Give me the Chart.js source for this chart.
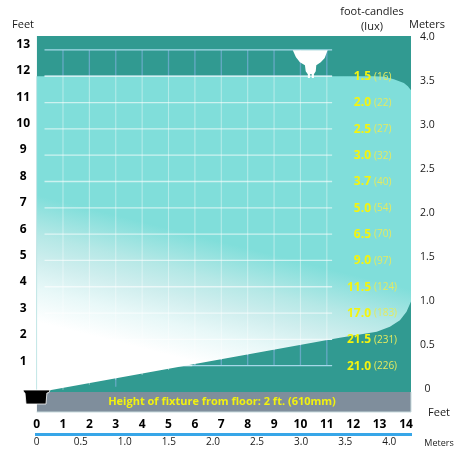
<!DOCTYPE html>
<html>
<head>
<meta charset="utf-8">
<script src="https://cdn.jsdelivr.net/npm/chart.js@4"></script>
<style>
html,body{margin:0;padding:0;background:#fff}
#w{width:454px;height:451px;position:relative}
</style>
</head>
<body>
<div id="w"><canvas id="c" width="454" height="451"></canvas></div>
<script>
// ---- data ----
const feetTicksY = [1,2,3,4,5,6,7,8,9,10,11,12,13];
const feetTicksX = [0,1,2,3,4,5,6,7,8,9,10,11,12,13,14];
const meterTicksY = ['0','0.5','1.0','1.5','2.0','2.5','3.0','3.5','4.0'];
const meterTicksX = ['0','0.5','1.0','1.5','2.0','2.5','3.0','3.5','4.0'];
const rowHeights = [12,11,10,9,8,7,6,5,4,3,2,1];
const footCandles = ['1.5','2.0','2.5','3.0','3.7','5.0','6.5','9.0','11.5','17.0','21.5','21.0'];
const lux = ['16','22','27','32','40','54','70','97','124','183','231','226'];
const fixtureNote = 'Height of fixture from floor: 2 ft. (610mm)';

const litX = [0,12.78,13.2,13.54,13.92,14.07,14.19,14.19,14.02,13.77,13.39,12.89,12.25,11.49,0.5,0];
const litY = [12,12,11.98,11.89,11.74,11.62,11.47,3.44,3.05,2.73,2.48,2.29,2.19,2.06,0.07,0.07];
const gridColumns = [1,2,3,4,5,6,7,8,9,10,11];
const gridDarkFloor = [1,1,0.2,1,1,1,1,1,1,1,1];
const gridLitFloor = [0.09,0.28,0.47,0.65,0.84,1.03,1.22,1.4,1.59,1.78,1.97];
const gridRows = [1,2,3,4,5,6,7,8,9,10,11,12,13];
const gridRowLitEnd = [5.9,11.2,11.2,11.2,11.2,11.2,11.2,11.2,11.2,11.2,11.2,11.2];
const lampX = [9.71,11.03,10.92,10.77,10.6,10.58,10.51,10.51,10.43,10.43,10.36,10.36,10.28,10.28,10.2,10.17,9.98,9.83];
const lampY = [12.99,12.99,12.69,12.53,12.42,12.19,12.08,11.93,11.93,12.08,12.08,11.93,11.93,12.08,12.19,12.42,12.53,12.72];
const fixtureX = [-0.515,0.508,0.47,0.39,0.356,-0.4,-0.44,-0.477];
const fixtureY = [0.076,0.076,-0.02,-0.04,-0.456,-0.456,-0.04,-0.02];
const xLimits = [0,14.19];
const yLimits = [-0.76,13.53];

// ---- colours ----
const DARK='#319a91', LIT='#80deda', BAND='#7f8e9c';
const zip=(a,b)=>a.map((v,i)=>({x:v,y:b[i]}));
const seg=(x0,y0,x1,y1)=>[{x:x0,y:y0},{x:x1,y:y1}];
const base={showLine:true,pointRadius:0,pointHoverRadius:0,tension:0,fill:false,clip:false};

function litGradient(ctx){
  const ch=ctx.chart, sx=ch.scales.x, sy=ch.scales.y;
  if(!sx||!sy||!ch.chartArea) return LIT;
  const g=ch.ctx.createLinearGradient(sx.getPixelForValue(0.508),sy.getPixelForValue(2.54),sx.getPixelForValue(1.644),sy.getPixelForValue(7.06));
  g.addColorStop(0,'#ffffff');
  g.addColorStop(0.26,'#e8f8f8');
  g.addColorStop(0.48,'#cfeeee');
  g.addColorStop(0.69,'#b5e8e6');
  g.addColorStop(1,LIT);
  return g;
}

const layers=[];
// dark background
layers.push({...base,data:seg(xLimits[0],yLimits[1],xLimits[1],yLimits[1]),borderWidth:0,fill:{value:0},backgroundColor:DARK});
// dark-area grid
gridColumns.forEach((c,i)=>layers.push({...base,data:seg(c,13,c,gridDarkFloor[i]),borderColor:'#66a9c4',borderWidth:1.3}));
gridRows.forEach(r=>layers.push({...base,data:seg(0.3,r,11.2,r),borderColor:'#a5d8e8',borderWidth:1.3}));
// lit field
layers.push({...base,data:zip(litX,litY),borderWidth:0,fill:'shape',backgroundColor:litGradient});
// lit-area grid
gridColumns.forEach((c,i)=>layers.push({...base,data:seg(c,12,c,gridLitFloor[i]),borderColor:'rgba(255,255,255,0.4)',borderWidth:1.1}));
gridRowLitEnd.forEach((e,i)=>layers.push({...base,data:seg(0.3,gridRows[i],e,gridRows[i]),borderColor:'rgba(255,255,255,0.6)',borderWidth:1.3}));
// left edge of the field
layers.push({...base,data:seg(0,0,0,12),borderColor:'rgba(190,228,228,0.9)',borderWidth:1});
// fixture band
layers.push({...base,data:seg(xLimits[0],0,xLimits[1],0),borderWidth:0,fill:{value:yLimits[0]},backgroundColor:BAND});
layers.push({...base,data:[{x:0,y:yLimits[0]},{x:xLimits[1],y:yLimits[0]},{x:xLimits[1],y:0}],borderColor:'#c8dadd',borderWidth:1});
// lamp
layers.push({...base,data:zip(lampX,lampY),borderWidth:0,fill:'shape',backgroundColor:'#ffffff'});
// Chart.js paints dataset 0 last, so the stack is handed over top first
const datasets=layers.reverse();

const TXT='#1a1a1a', FONT='"Open Sans", sans-serif';
const labelsPlugin={
  id:'labels',
  afterDraw(ch){
    const c=ch.ctx, sx=ch.scales.x, sy=ch.scales.y;
    c.save();
    // fixture hangs over the left edge of the plot, so it is not clipped to it
    c.beginPath();
    fixtureX.forEach((v,i)=>{
      const px=sx.getPixelForValue(v), py=sy.getPixelForValue(fixtureY[i]);
      i?c.lineTo(px,py):c.moveTo(px,py);
    });
    c.closePath();
    c.fillStyle='#000'; c.strokeStyle='#fff'; c.lineWidth=0.8;
    c.fill(); c.stroke();
    c.textBaseline='middle';
    rowHeights.forEach((r,i)=>{
      const py=sy.getPixelForValue(r)+0.5;
      c.textAlign='right'; c.font='700 12px '+FONT; c.fillStyle='#f4f40e';
      c.fillText(footCandles[i],371,py);
      c.textAlign='left'; c.font='400 10px '+FONT; c.fillStyle='#e4ea60';
      c.fillText('('+lux[i]+')',374,py);
    });
    c.textAlign='center'; c.font='700 11px '+FONT; c.fillStyle='#f2f20e';
    c.fillText(fixtureNote,222,402);
    c.font='400 11px '+FONT; c.fillStyle=TXT;
    c.fillText('Feet',23,25);
    c.fillText('foot-candles',372,12);
    c.fillText('(lux)',372,27);
    c.fillText('Meters',427,25);
    c.fillText('Feet',439,413);
    c.font='400 9px '+FONT;
    c.fillText('Meters',439,443);
    c.restore();
  }
};

new Chart(document.getElementById('c'),{
  type:'scatter',
  data:{datasets},
  plugins:[labelsPlugin],
  options:{
    responsive:false,animation:false,events:[],
    layout:{padding:{top:36,left:0,right:0,bottom:0}},
    plugins:{legend:{display:false},tooltip:{enabled:false},title:{display:false}},
    scales:{
      x:{type:'linear',position:'bottom',weight:0,min:xLimits[0],max:xLimits[1],
        grid:{display:false,drawTicks:false},border:{display:false},
        afterFit:s=>{s.height=22},
        afterBuildTicks:s=>{s.ticks=feetTicksX.map(v=>({value:v}))},
        ticks:{autoSkip:false,maxRotation:0,padding:5,color:'#000',font:{family:FONT,size:12,weight:'700'},callback:v=>String(v)}},
      xm:{type:'linear',position:'bottom',weight:1,min:0,max:4.246,
        grid:{display:false,drawTicks:false},border:{display:true,color:'#37a6e8',width:3},
        afterFit:s=>{s.height=17},
        afterBuildTicks:s=>{s.ticks=meterTicksX.map(v=>({value:parseFloat(v),label:v}))},
        ticks:{autoSkip:false,maxRotation:0,padding:2,color:TXT,font:{family:FONT,size:10},callback:(v,i)=>meterTicksX[i]}},
      y:{type:'linear',display:false,min:yLimits[0],max:yLimits[1]},
      yf:{type:'linear',position:'left',min:-0.928,max:13.314,
        grid:{display:false,drawTicks:false},border:{display:false},
        afterFit:s=>{s.width=36.6},
        afterBuildTicks:s=>{s.ticks=feetTicksY.map(v=>({value:v}))},
        ticks:{autoSkip:false,padding:6.6,crossAlign:'center',color:'#000',font:{family:FONT,size:12,weight:'700'},callback:v=>String(v)}},
      ym:{type:'linear',position:'right',min:-0.261,max:4.011,
        grid:{display:false,drawTicks:false},border:{display:false},
        afterFit:s=>{s.width=43},
        afterBuildTicks:s=>{s.ticks=meterTicksY.map(v=>({value:parseFloat(v)}))},
        ticks:{autoSkip:false,padding:9,crossAlign:'center',color:TXT,font:{family:FONT,size:10.5},callback:(v,i)=>meterTicksY[i]}}
    }
  }
});
</script>
</body>
</html>
